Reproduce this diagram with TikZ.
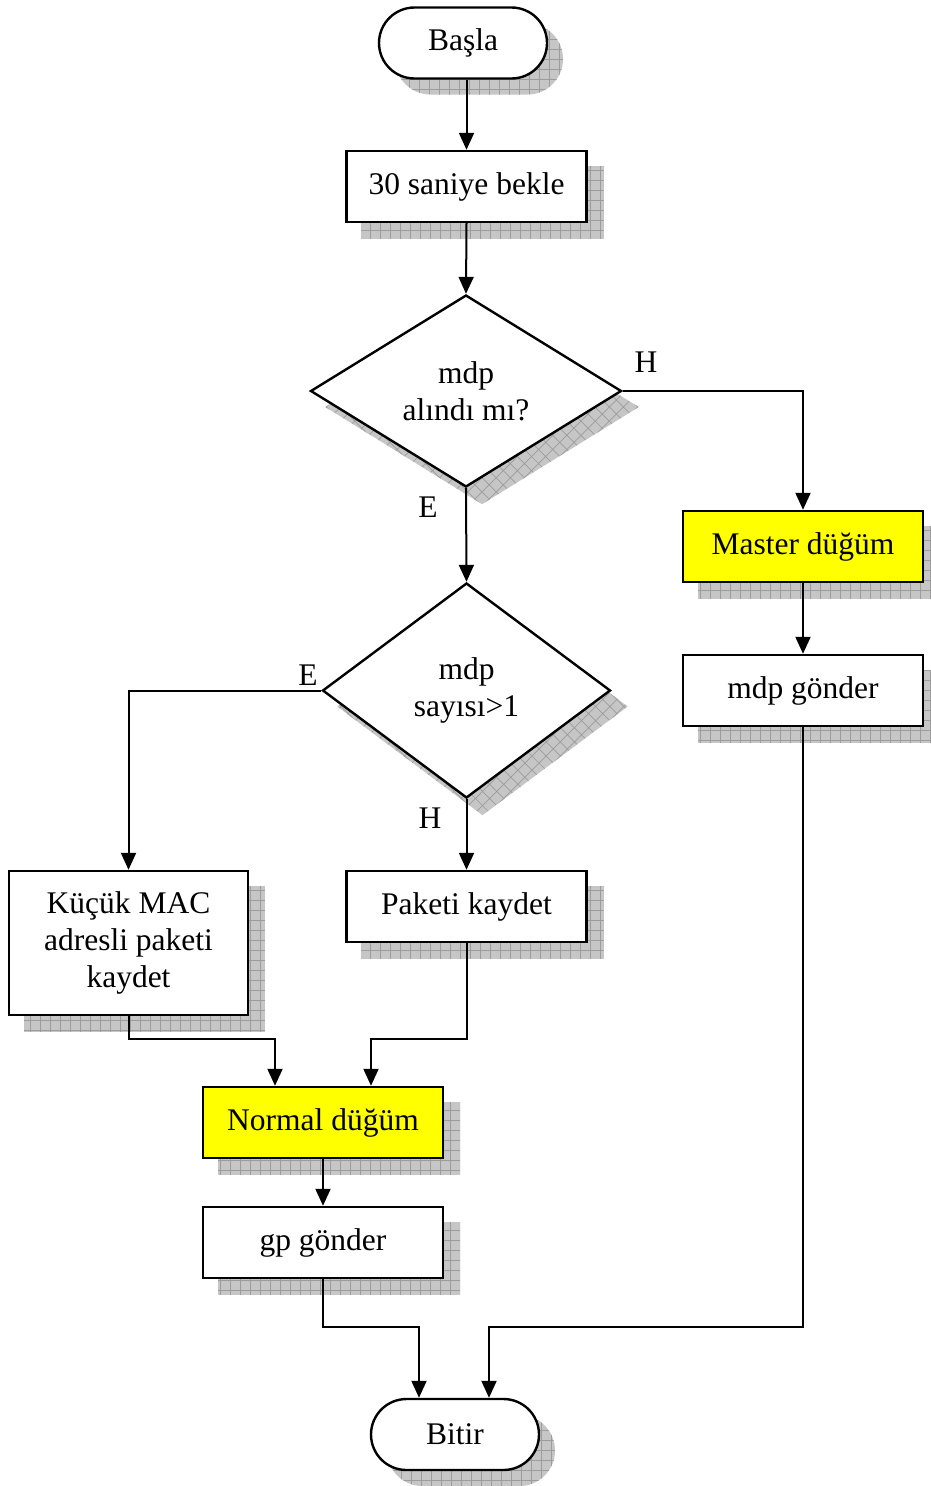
\documentclass[tikz,border=0pt]{standalone}
\usepackage{fontspec}
\setmainfont{Liberation Serif}
\usetikzlibrary{arrows.meta,shapes.geometric,shapes.misc,backgrounds,calc}
\definecolor{shd}{HTML}{C6C6C6}
\definecolor{shdgrid}{HTML}{9C9C9C}
\definecolor{hilite}{HTML}{FFFF00}
\tikzset{
  base/.style={draw=black, line width=2.4pt, fill=white, inner sep=0pt, align=center,
    font=\fontsize{31.5}{37}\selectfont},
  procbox/.style={base, rectangle, minimum width=240pt, minimum height=71pt},
  notebox/.style={procbox, fill=hilite},
  termbox/.style={base, rounded rectangle, minimum width=168pt, minimum height=71pt},
  decbox/.style={base, diamond},
  lbl/.style={inner sep=0pt, font=\fontsize{31.5}{37}\selectfont},
  conn/.style={draw=black, line width=2pt, -{Triangle[length=17pt,width=15pt]}},
  shadowfill/.style={fill=shd, draw=none,
    path picture={\draw[shdgrid, line width=0.7pt, step=10pt]
      (path picture bounding box.south west) grid (path picture bounding box.north east);}},
  hatchfill/.style={fill=shd, draw=none,
    path picture={\begin{scope}[shift={(path picture bounding box.center)}, rotate=45]
      \draw[shdgrid, line width=0.7pt, step=10pt] (-250,-250) grid (250,250);
    \end{scope}}},
}
\begin{document}
\begin{tikzpicture}[x=1pt, y=-1pt]
\useasboundingbox (0,0) rectangle (930,1486);

% flow steps
\node[termbox] (start) at (463,43) {Başla};
\node[procbox] (wait) at (466.5,186.5) {30 saniye bekle};
\node[decbox, minimum width=311pt, minimum height=192pt] (d1) at (466,391) {mdp\\alındı mı?};
\node[decbox, minimum width=288pt, minimum height=215pt] (d2) at (466.5,690.5) {mdp\\sayısı>1};
\node[notebox] (master) at (803,546.5) {Master düğüm};
\node[procbox] (mdpg) at (803,690.5) {mdp gönder};
\node[procbox, minimum width=239pt, minimum height=144pt] (kucuk) at (128.5,943) {Küçük MAC\\adresli paketi\\kaydet};
\node[procbox] (paket) at (466.5,906.5) {Paketi kaydet};
\node[notebox] (normal) at (323,1122.5) {Normal düğüm};
\node[procbox] (gp) at (323,1242.5) {gp gönder};
\node[termbox] (stop) at (455,1434.5) {Bitir};

% branch labels
\node[lbl] (h1) at (646,362) {H};
\node[lbl] (e1) at (428,507) {E};
\node[lbl] (e2) at (308,675) {E};
\node[lbl] (h2) at (430,818) {H};

% page and shadows behind every step
\begin{scope}[on background layer]
  \fill[white] (0,0) rectangle (930,1486);
  \node[termbox, shadowfill] at ([shift={(16,16)}]start.center) {};
  \node[termbox, shadowfill] at ([shift={(16,16)}]stop.center) {};
  \foreach \n in {wait,master,mdpg,kucuk,paket,normal,gp}{
    \path[shadowfill] ([shift={(16,16)}]\n.north west) rectangle ([shift={(16,16)}]\n.south east);
  }
  \foreach \n in {d1,d2}{
    \path[hatchfill] ([shift={(16,16)}]\n.north) -- ([shift={(16,16)}]\n.east)
      -- ([shift={(16,16)}]\n.south) -- ([shift={(16,16)}]\n.west) -- cycle;
  }
\end{scope}

% junction points
\coordinate (nL) at ([xshift=-48pt]normal.north);
\coordinate (nR) at ([xshift=48pt]normal.north);
\coordinate (bL) at ([xshift=-36pt]stop.north);
\coordinate (bR) at ([xshift=34pt]stop.north);
\coordinate (mergeA) at (0,1039);
\coordinate (mergeB) at (0,1327);

% connectors
\draw[conn] (wait.north |- start.south) -- (wait.north);
\draw[conn] (wait.south) -- (d1.north);
\draw[conn] (d1.east) -| (master.north);
\draw[conn] (d1.south) -- (d2.north);
\draw[conn] (d2.west) -| (kucuk.north);
\draw[conn] (d2.south) -- (paket.north);
\draw[conn] (master.south) -- (mdpg.north);
\draw[conn] (kucuk.south) -- (kucuk.south |- mergeA) -| (nL);
\draw[conn] (paket.south) -- (paket.south |- mergeA) -| (nR);
\draw[conn] (normal.south) -- (gp.north);
\draw[conn] (gp.south) -- (gp.south |- mergeB) -| (bL);
\draw[conn] (mdpg.south) -- (mdpg.south |- mergeB) -| (bR);
\end{tikzpicture}
\end{document}
